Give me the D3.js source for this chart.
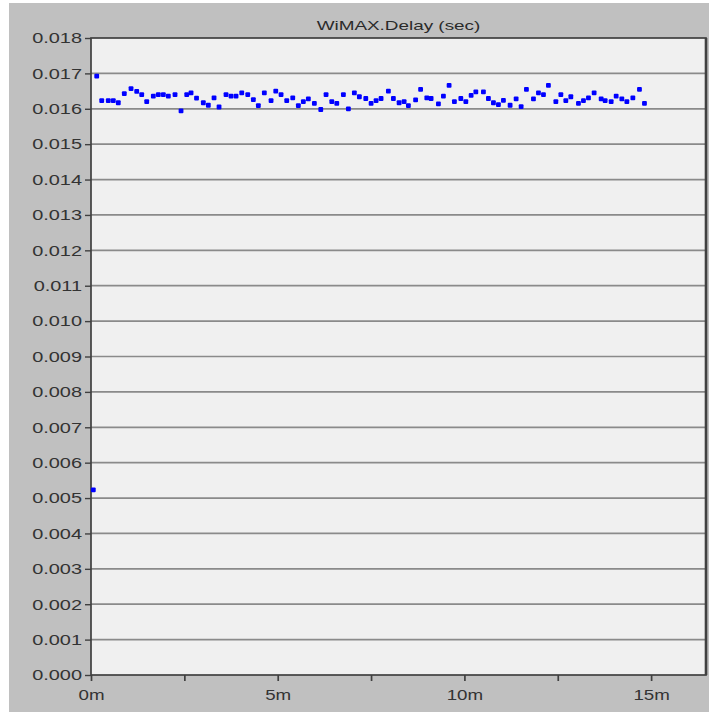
<!DOCTYPE html>
<html>
<head>
<meta charset="utf-8">
<script src="https://cdn.jsdelivr.net/npm/d3@7"></script>
<style>
html,body{margin:0;padding:0;background:#fff;}
svg{display:block;}
</style>
</head>
<body>
<svg id="chart" width="709" height="715"></svg>
<script>
const title = "WiMAX.Delay (sec)";
const yTicks = [0,0.001,0.002,0.003,0.004,0.005,0.006,0.007,0.008,0.009,0.010,0.011,0.012,0.013,0.014,0.015,0.016,0.017,0.018];
const xTicks = [0,2.5,5,7.5,10,12.5,15];
const xLabelTicks = [0,5,10,15];
const timeMin = [0.062,0.153,0.287,0.463,0.597,0.731,0.892,1.072,1.224,1.358,1.492,1.669,1.803,1.937,2.071,2.250,2.411,2.564,2.679,2.826,
3.008,3.142,3.295,3.429,3.616,3.750,3.884,4.037,4.198,4.348,4.482,4.642,4.822,4.948,5.090,5.242,5.403,5.553,5.687,5.821,
5.982,6.153,6.295,6.448,6.582,6.759,6.893,7.053,7.187,7.359,7.501,7.635,7.768,7.964,8.098,8.251,8.385,8.500,8.693,8.827,
8.993,9.108,9.304,9.438,9.590,9.732,9.904,10.038,10.180,10.306,10.509,10.643,10.777,10.911,11.045,11.224,11.385,11.519,11.661,11.849,
11.983,12.117,12.250,12.449,12.583,12.716,12.850,13.054,13.188,13.322,13.474,13.662,13.769,13.930,14.064,14.216,14.350,14.511,14.688,14.822];
const delaySec = [0.00523,0.01692,0.01623,0.01623,0.01623,0.01617,0.01643,0.01657,0.01649,0.01640,0.01620,0.01636,0.01640,0.01640,0.01636,0.01640,0.01594,0.01640,0.01645,0.01630,
0.01617,0.01610,0.01631,0.01605,0.01640,0.01636,0.01636,0.01645,0.01640,0.01626,0.01609,0.01645,0.01623,0.01650,0.01640,0.01623,0.01631,0.01609,0.01620,0.01628,
0.01615,0.01598,0.01640,0.01620,0.01615,0.01640,0.01600,0.01645,0.01634,0.01629,0.01615,0.01623,0.01629,0.01650,0.01629,0.01617,0.01620,0.01609,0.01625,0.01655,
0.01631,0.01629,0.01614,0.01636,0.01666,0.01620,0.01629,0.01620,0.01638,0.01648,0.01648,0.01629,0.01617,0.01612,0.01624,0.01610,0.01628,0.01606,0.01655,0.01628,
0.01645,0.01640,0.01666,0.01620,0.01640,0.01623,0.01634,0.01615,0.01623,0.01631,0.01645,0.01628,0.01623,0.01620,0.01636,0.01628,0.01620,0.01631,0.01655,0.01615];

const svg = d3.select("#chart");
const W = 709, H = 715;
const L = 91, R = 706, T = 38, B = 675;
const FONT = "'Liberation Sans', Arial, sans-serif";
const TXT = "#333333";

// panel background
svg.append("rect").attr("x",9).attr("y",3).attr("width",W-9).attr("height",709).attr("fill","#c0c0c0");

const x = d3.scaleLinear().domain([0,16.47]).range([L,R]);
const y = d3.scaleLinear().domain([0,0.018]).range([B,T]);

// plot area
svg.append("rect").attr("x",L).attr("y",T).attr("width",R-L).attr("height",B-T).attr("fill","#f0f0f0");

// gridlines
svg.append("g").selectAll("line").data(yTicks.filter(d=>d>0 && d<0.018)).join("line")
  .attr("x1",L).attr("x2",R).attr("y1",d=>y(d)).attr("y2",d=>y(d))
  .attr("stroke","#8a8a8a").attr("stroke-width",1.7);

// axes
const ySX = 1.33;
const yAxis = d3.axisLeft(y).tickValues(yTicks).tickFormat(d3.format(".3f")).tickSize(6).tickPadding(3);
const gy = svg.append("g").attr("transform",`translate(${L},0)`).call(yAxis);
gy.select(".domain").remove();
gy.selectAll("line").attr("stroke","#404040").attr("stroke-width",1.4);
gy.selectAll("text").attr("font-family",FONT).attr("font-size",15).attr("fill",TXT)
  .attr("x",-9/ySX).attr("transform",`scale(${ySX},1)`);

const xSX = 1.25;
const xAxis = d3.axisBottom(x).tickValues(xTicks).tickFormat(d=> xLabelTicks.includes(d) ? d+"m" : "").tickSize(6).tickPadding(8);
const gx = svg.append("g").attr("transform",`translate(0,${B})`).call(xAxis);
gx.select(".domain").remove();
gx.selectAll("line").attr("stroke","#404040").attr("stroke-width",1.7);
gx.selectAll("text").attr("font-family",FONT).attr("font-size",15).attr("fill",TXT)
  .attr("transform",`scale(${xSX},1)`);

// border
svg.append("rect").attr("x",L).attr("y",T).attr("width",R-L).attr("height",B-T)
  .attr("fill","none").attr("stroke","#404040").attr("stroke-width",1.7);
svg.append("line").attr("x1",R).attr("x2",R).attr("y1",T).attr("y2",B).attr("stroke","#404040").attr("stroke-width",2.6);

// points
svg.append("g").selectAll("rect").data(timeMin.map((t,i)=>({t,v:delaySec[i]}))).join("rect")
  .attr("x",d=>x(d.t)-2.4).attr("y",d=>y(d.v)-2.4).attr("width",4.8).attr("height",4.8)
  .attr("rx",1).attr("fill","#0000ff");

// title
const tSX = 1.4;
svg.append("text").attr("x",(L+R)/2/tSX).attr("y",30).attr("text-anchor","middle")
  .attr("transform",`scale(${tSX},1)`)
  .attr("font-family",FONT).attr("font-size",13.5).attr("fill","#2a2a2a")
  .text(title);
</script>
</body>
</html>
